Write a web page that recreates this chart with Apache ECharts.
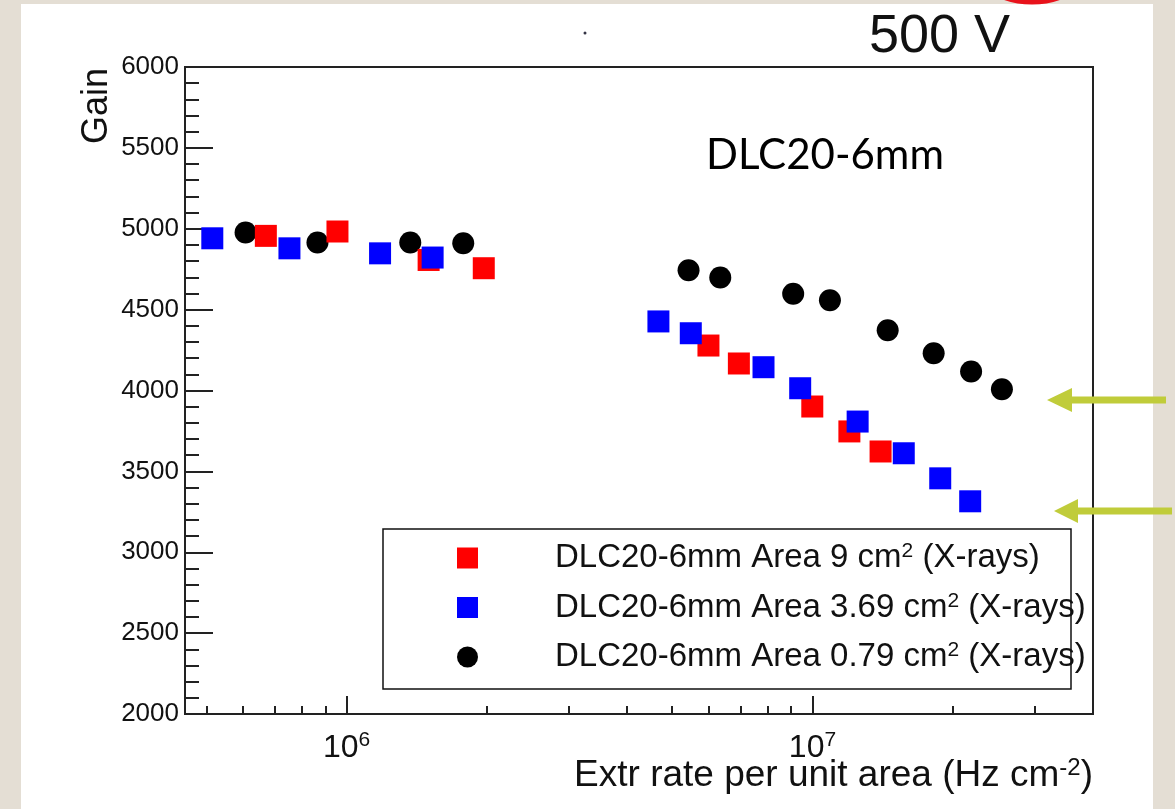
<!DOCTYPE html>
<html>
<head>
<meta charset="utf-8">
<script src="https://cdn.jsdelivr.net/npm/echarts@6/dist/echarts.min.js"></script>
<style>
  html, body { margin: 0; padding: 0; background: #e4ded4; }
  #panel { position: absolute; left: 21px; top: 4px; width: 1132px; height: 805px; background: #ffffff; }
  #chart { position: absolute; left: 0; top: 0; width: 1175px; height: 809px; }
</style>
</head>
<body>
<div id="panel"></div>
<div id="chart"></div>
<script>
// Gain versus extracted rate per unit area, DLC20-6mm detector at 500 V
const rateArea9 = [6.71e5, 9.56e5, 1.50e6, 1.97e6, 5.98e6, 6.95e6, 9.99e6, 1.20e7, 1.40e7];
const gainArea9 = [4956, 4983, 4807, 4756, 4278, 4167, 3901, 3747, 3623];

const rateArea369 = [5.15e5, 7.54e5, 1.18e6, 1.53e6, 4.67e6, 5.48e6, 7.85e6, 9.41e6, 1.25e7, 1.57e7, 1.88e7, 2.18e7];
const gainArea369 = [4941, 4879, 4848, 4822, 4427, 4354, 4144, 4014, 3808, 3612, 3457, 3315];

const rateArea079 = [6.07e5, 8.66e5, 1.37e6, 1.78e6, 5.42e6, 6.34e6, 9.09e6, 1.09e7, 1.45e7, 1.82e7, 2.19e7, 2.55e7];
const gainArea079 = [4977, 4915, 4915, 4910, 4743, 4699, 4598, 4558, 4372, 4230, 4118, 4008];

const seriesNames = [
  'DLC20-6mm Area 9 cm² (X-rays)',
  'DLC20-6mm Area 3.69 cm² (X-rays)',
  'DLC20-6mm Area 0.79 cm² (X-rays)'
];

const xMajorTicks = [1e6, 1e7];
const xMinorTicks = [5e5, 6e5, 7e5, 8e5, 9e5, 2e6, 3e6, 4e6, 5e6, 6e6, 7e6, 8e6, 9e6, 2e7, 3e7];
const xRange = [4.5e5, 4e7];
const yRange = [2000, 6000];
const yStep = 500;

const FONT = 'Liberation Sans';
const INK = '#111111';
const ARROW = '#c0cc3a';

function pairs(xs, ys) { return xs.map((x, i) => [x, ys[i]]); }

function legendLabel(name) {
  const parts = name.split('²');
  return '{sp|}{t|' + parts[0] + '}{s|2}{t|' + parts[1] + '}';
}

const chart = echarts.init(document.getElementById('chart'), null, { renderer: 'canvas' });

const tickLine = { color: '#222', width: 2 };

const option = {
  backgroundColor: 'transparent',
  animation: false,
  grid: {
    left: 185, top: 67, width: 908, height: 647,
    show: true, borderColor: '#222', borderWidth: 2, backgroundColor: 'transparent'
  },
  xAxis: [
    {
      type: 'log', logBase: 10, min: xRange[0], max: xRange[1], position: 'bottom',
      axisLine: { show: false },
      splitLine: { show: false },
      axisTick: { show: true, inside: true, length: 18, customValues: xMajorTicks, lineStyle: tickLine },
      axisLabel: {
        show: true, margin: 16, customValues: xMajorTicks,
        formatter: v => '{b|10}{s|' + Math.round(Math.log10(v)) + '}',
        rich: {
          b: { fontFamily: FONT, fontSize: 32, color: INK, lineHeight: 36 },
          s: { fontFamily: FONT, fontSize: 21, color: INK, lineHeight: 21, verticalAlign: 'top' }
        }
      }
    },
    {
      type: 'log', logBase: 10, min: xRange[0], max: xRange[1], position: 'bottom',
      axisLine: { show: false },
      splitLine: { show: false },
      axisTick: { show: true, inside: true, length: 8, customValues: xMinorTicks, lineStyle: tickLine },
      axisLabel: { show: false }
    }
  ],
  yAxis: {
    type: 'value', min: yRange[0], max: yRange[1], interval: yStep,
    axisLine: { show: false },
    splitLine: { show: false },
    axisTick: { show: true, inside: true, length: 28, lineStyle: tickLine },
    minorTick: { show: true, splitNumber: 5, length: 14, lineStyle: tickLine },
    axisLabel: { fontFamily: FONT, fontSize: 26, color: INK, margin: 6, formatter: v => String(v) }
  },
  legend: {
    orient: 'vertical', left: 457, top: 541, padding: 0,
    itemGap: 16, itemWidth: 21, itemHeight: 21, selectedMode: false,
    data: [
      { name: seriesNames[0], icon: 'rect' },
      { name: seriesNames[1], icon: 'rect' },
      { name: seriesNames[2], icon: 'circle' }
    ],
    formatter: legendLabel,
    textStyle: {
      rich: {
        sp: { width: 72 },
        t: { fontFamily: FONT, fontSize: 33, color: INK, lineHeight: 34 },
        s: { fontFamily: FONT, fontSize: 21, color: INK, lineHeight: 21, verticalAlign: 'top' }
      }
    }
  },
  series: [
    {
      type: 'scatter', name: seriesNames[0], data: pairs(rateArea9, gainArea9),
      symbol: 'rect', symbolSize: 22, itemStyle: { color: '#ff0000', opacity: 1 }, z: 3
    },
    {
      type: 'scatter', name: seriesNames[1], data: pairs(rateArea369, gainArea369),
      symbol: 'rect', symbolSize: 22, itemStyle: { color: '#0000ff', opacity: 1 }, z: 4
    },
    {
      type: 'scatter', name: seriesNames[2], data: pairs(rateArea079, gainArea079),
      symbol: 'circle', symbolSize: 22, itemStyle: { color: '#000000', opacity: 1 }, z: 2
    }
  ],
  graphic: [
    // legend frame
    {
      type: 'rect', shape: { x: 383, y: 529, width: 688, height: 160 },
      style: { fill: 'none', stroke: '#111', lineWidth: 1.5 }, z: 1
    },
    // axis titles
    {
      type: 'text', x: 97, y: 68, rotation: Math.PI / 2,
      style: { text: 'Gain', fontFamily: FONT, fontSize: 36, fill: INK, align: 'right', verticalAlign: 'middle' }
    },
    {
      type: 'text', x: 1093, y: 776,
      style: {
        text: '{t|Extr rate per unit area (Hz cm}{s|-2}{t|)}',
        align: 'right', verticalAlign: 'middle',
        rich: {
          t: { fontFamily: FONT, fontSize: 37, fill: INK, lineHeight: 40 },
          s: { fontFamily: FONT, fontSize: 24, fill: INK, lineHeight: 24, verticalAlign: 'top' }
        }
      }
    },
    // annotations
    {
      type: 'text', x: 706, y: 155,
      style: { text: 'DLC20-6mm', fontFamily: 'Lato', fontSize: 42, fill: '#000', align: 'left', verticalAlign: 'middle' }
    },
    {
      type: 'text', x: 869, y: 37,
      style: { text: '500 V', fontFamily: FONT, fontSize: 54, fill: INK, align: 'left', verticalAlign: 'middle' }
    },
    {
      type: 'circle', shape: { cx: 585, cy: 33, r: 1.5 }, style: { fill: '#334' }
    },
    {
      type: 'ellipse', shape: { cx: 1032, cy: -40, rx: 60, ry: 42 },
      style: { fill: 'none', stroke: '#e8121b', lineWidth: 5 }
    },
    // arrows
    {
      type: 'polygon', z: 50,
      shape: { points: [[1047, 400], [1072, 388], [1072, 396.5], [1166, 396.5], [1166, 403.5], [1072, 403.5], [1072, 412]] },
      style: { fill: ARROW }
    },
    {
      type: 'polygon', z: 50,
      shape: { points: [[1054, 511], [1078, 499], [1078, 507.5], [1172, 507.5], [1172, 514.5], [1078, 514.5], [1078, 523]] },
      style: { fill: ARROW }
    }
  ]
};

chart.setOption(option);
</script>
</body>
</html>
